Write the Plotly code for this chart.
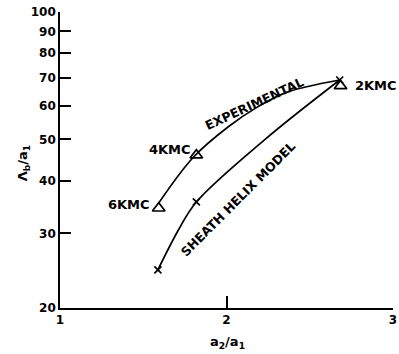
import numpy as np
import plotly.graph_objects as go

# Experimental curve (traced) and triangle markers
exp_curve_x = [1.593, 1.801, 2.009, 2.187, 2.365, 2.680]
exp_curve_y = [35.4, 45.4, 53.5, 59.7, 64.7, 69.1]
exp_pts_x = [1.593, 1.819, 2.685]
exp_pts_y = [34.4, 45.9, 66.9]
exp_labels = ["6KMC", "4KMC", "2KMC"]

# Sheath helix model curve and x markers
model_curve_x = [1.588, 1.712, 1.819, 2.228, 2.680]
model_curve_y = [24.6, 30.6, 35.6, 49.9, 69.1]
model_pts_x = [1.588, 1.819, 2.680]
model_pts_y = [24.6, 35.6, 69.1]

y_ticks = [20, 30, 40, 50, 60, 70, 80, 90, 100]
x_ticks = [1, 2, 3]

FONT = "DejaVu Sans"
fig = go.Figure()
fig.add_trace(go.Scatter(x=exp_curve_x, y=exp_curve_y, mode="lines",
                         line=dict(color="black", width=1.7, shape="spline", smoothing=1.0),
                         showlegend=False, hoverinfo="skip"))
fig.add_trace(go.Scatter(x=model_curve_x, y=model_curve_y, mode="lines",
                         line=dict(color="black", width=1.7, shape="spline", smoothing=1.0),
                         showlegend=False, hoverinfo="skip"))
fig.add_trace(go.Scatter(x=exp_pts_x, y=exp_pts_y, mode="markers",
                         marker=dict(symbol="triangle-up-open", size=11, color="black",
                                     line=dict(width=1.7, color="black")),
                         showlegend=False))
fig.add_trace(go.Scatter(x=model_pts_x, y=model_pts_y, mode="markers",
                         marker=dict(symbol="x-thin-open", size=7, color="black",
                                     line=dict(width=1.7, color="black")),
                         showlegend=False))

def ann(text, x, y, xanchor="center", angle=0, size=13):
    fig.add_annotation(text="<b>" + text + "</b>", x=x, y=y, xref="paper", yref="paper",
                       xanchor=xanchor, yanchor="middle", showarrow=False,
                       textangle=angle, font=dict(family=FONT, size=size, color="black"))

ann(exp_labels[0], 0.276, 0.348, "right")
ann(exp_labels[1], 0.398, 0.534, "right")
ann(exp_labels[2], 0.881, 0.753, "left")
ann("EXPERIMENTAL", 0.585, 0.69, angle=-25, size=12.5)
ann("SHEATH HELIX MODEL", 0.536, 0.37, angle=-45, size=12.5)
ann("Λ<sub>b</sub>/a<sub>1</sub>", -0.107, 0.49, angle=-90, size=13)
ann("a<sub>2</sub>/a<sub>1</sub>", 0.504, -0.115, size=13)

tickfont = dict(family=FONT + ", Arial Black", size=12, color="black", weight="bold")
fig.update_xaxes(range=[1, 3], tickvals=x_ticks, ticktext=[str(v) for v in x_ticks],
                 showgrid=False, zeroline=False, showline=True, linecolor="black", linewidth=1.7,
                 ticks="inside", ticklen=12, tickwidth=1.5, tickcolor="black",
                 ticklabeloverflow="allow", tickfont=tickfont)
fig.update_yaxes(type="log", range=[np.log10(20), 2], tickvals=y_ticks,
                 ticktext=[str(v) for v in y_ticks],
                 showgrid=False, zeroline=False, showline=True, linecolor="black", linewidth=1.7,
                 ticks="inside", ticklen=11, tickwidth=1.5, tickcolor="black",
                 ticklabeloverflow="allow", tickfont=tickfont)
fig.update_layout(width=399, height=354, margin=dict(l=60, r=2, t=12, b=46),
                  paper_bgcolor="white", plot_bgcolor="white")
fig.write_html("out.html")
